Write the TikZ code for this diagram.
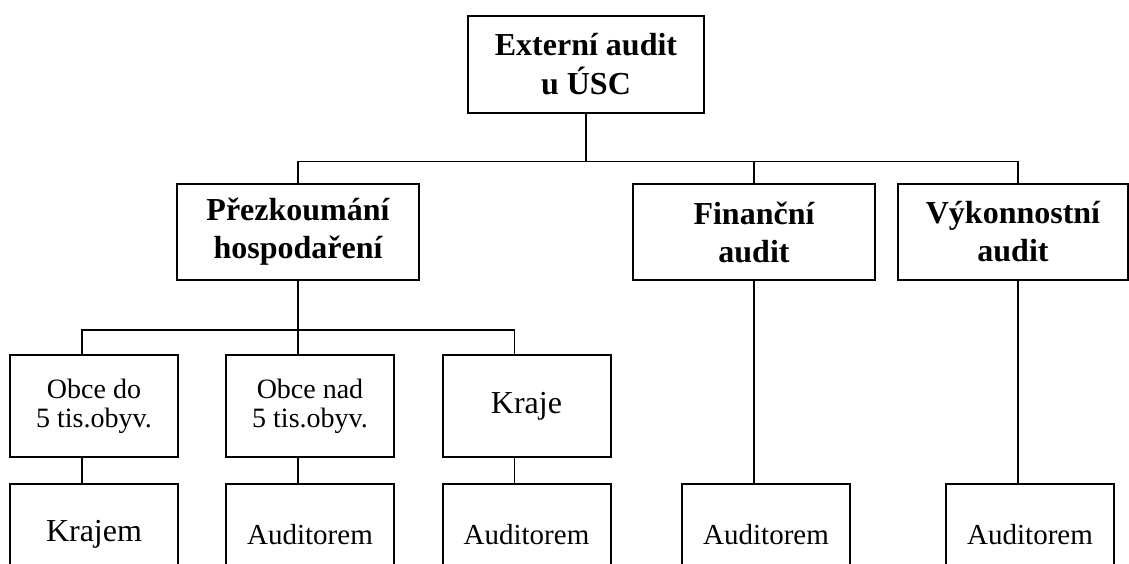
\documentclass[tikz,border=0pt]{standalone}
\usepackage{fontspec}
\setmainfont{Liberation Serif}
\begin{document}
\begin{tikzpicture}
[x=0.5pt,y=-0.5pt, box/.style={draw,line width=1pt,align=center,inner sep=0pt,minimum width=84pt,minimum height=51pt},
 head/.style={box,minimum width=121pt,minimum height=48pt,font=\bfseries\fontsize{16}{19}\selectfont},
 small/.style={font=\fontsize{14}{14.5}\selectfont}, mid/.style={font=\fontsize{14.5}{15}\selectfont},
 big/.style={font=\fontsize{16}{19}\selectfont},
 link/.style={line width=0.75pt}]

% the frame of the picture
\useasboundingbox (0,0) rectangle (1129,563);
\clip (0,0) rectangle (1129,563);

% the boxes
\node[head,minimum width=118pt,minimum height=48.5pt,font=\bfseries\fontsize{16}{19.5}\selectfont] (ext) at (586,64.5) {Externí audit\\u ÚSC};
\node[head] (pre) at (298,232) {Přezkoumání\\hospodaření};
\node[head] (fin) at (754,232) {Finanční\\audit};
\node[head,minimum width=115pt] (vyk) at (1013,232) {Výkonnostní\\audit};

\node[box,small] (obceA) at (94,406) {Obce do\\5 tis.obyv.};
\node[box,small] (obceB) at (310,406) {Obce nad\\5 tis.obyv.};
\node[box,big] (kraje) at (526.5,406) {Kraje};

\node[box,big] (krajem) at (94,534.5) {Krajem};
\node[box,mid] (audB) at (310,534.5) {Auditorem};
\node[box,mid] (audC) at (526.5,534.5) {Auditorem};
\node[box,mid] (audD) at (766,534.5) {Auditorem};
\node[box,mid] (audE) at (1030,534.5) {Auditorem};

% the branch points
\coordinate (hubA) at ([yshift=-23.75pt]ext.south);
\coordinate (hubB) at ([yshift=-24.5pt]pre.south);

% the connectors
\draw[link] (ext.south) -- (hubA);
\draw[link] (hubA) -| (pre.north);
\draw[link] (hubA) -| (fin.north);
\draw[link] (hubA) -| ([xshift=2.5pt]vyk.north);

\draw[link] (pre.south) -- (hubB);
\draw[link] (hubB) -| ([xshift=-6pt]obceA.north);
\draw[link] (hubB) -| ([xshift=-6pt]obceB.north);
\draw[link] (hubB) -| ([xshift=-6pt]kraje.north);

\draw[link] ([xshift=-6pt]obceA.south) -- ([xshift=-6pt]krajem.north);
\draw[link] ([xshift=-6pt]obceB.south) -- ([xshift=-6pt]audB.north);
\draw[link] ([xshift=-6pt]kraje.south) -- ([xshift=-6pt]audC.north);
\draw[link] (fin.south) -- ([xshift=-6pt]audD.north);
\draw[link] ([xshift=2.5pt]vyk.south) -- ([xshift=-6pt]audE.north);

%
\end{tikzpicture}
\end{document}
